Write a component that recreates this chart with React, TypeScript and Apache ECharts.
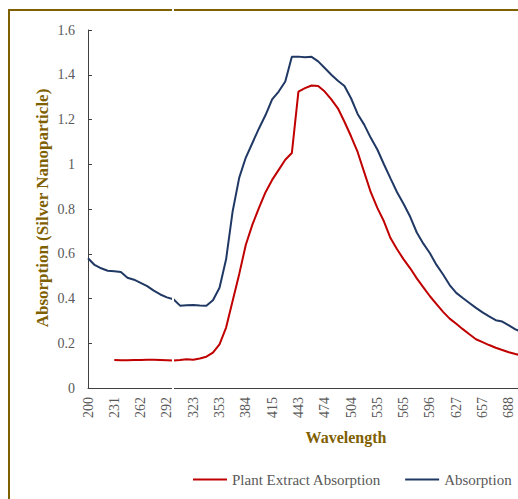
import React, { useEffect, useRef } from "react";
import * as echarts from "echarts";

// Category axis: wavelengths (nm); every 4th one is labelled
const wavelengths = [
  200, 208, 216, 223, 231, 239, 247, 254, 262, 270, 277, 285, 292, 300, 308, 315,
  323, 331, 338, 346, 353, 361, 369, 376, 384, 392, 400, 407, 415, 422, 429, 436,
  443, 451, 459, 466, 474, 482, 489, 497, 504, 512, 520, 527, 535, 543, 550, 558,
  565, 573, 581, 588, 596, 604, 612, 619, 627, 635, 642, 650, 657, 665, 673, 680,
  688, 696, 704,
];

const plantExtractAbsorption: (number | null)[] = [
  null, null, null, null, 0.125, 0.124, 0.124, 0.125, 0.125, 0.126, 0.126, 0.125, 0.124, 0.123, 0.125, 0.128,
  0.126, 0.132, 0.14, 0.158, 0.195, 0.27, 0.39, 0.51, 0.64, 0.73, 0.805, 0.875, 0.93, 0.975, 1.02, 1.05,
  1.325, 1.34, 1.352, 1.35, 1.325, 1.29, 1.25, 1.19, 1.125, 1.055, 0.965, 0.875, 0.805, 0.745, 0.67, 0.62,
  0.575, 0.535, 0.49, 0.45, 0.41, 0.375, 0.34, 0.31, 0.287, 0.263, 0.24, 0.218, 0.205, 0.192, 0.18, 0.17,
  0.16, 0.152, 0.145,
];

const absorption = [
  0.58, 0.55, 0.535, 0.524, 0.522, 0.518, 0.493, 0.484, 0.47, 0.455, 0.435, 0.418, 0.405, 0.397, 0.368, 0.37,
  0.371, 0.369, 0.368, 0.392, 0.448, 0.575, 0.79, 0.94, 1.03, 1.095, 1.16, 1.22, 1.29, 1.325, 1.37, 1.48,
  1.481, 1.478, 1.48, 1.46, 1.43, 1.4, 1.373, 1.35, 1.295, 1.225, 1.177, 1.118, 1.066, 1.0, 0.937, 0.875,
  0.822, 0.765, 0.695, 0.645, 0.602, 0.55, 0.507, 0.46, 0.425, 0.402, 0.38, 0.358, 0.338, 0.32, 0.303, 0.297,
  0.28, 0.262, 0.25,
];

const seriesNames = ["Plant Extract Absorption", "Absorption"];
const seriesColors = ["#C00000", "#203864"];
const yTitle = "Absorption (Silver Nanoparticle)";
const xTitle = "Wavelength";

const SERIF = "'Liberation Serif', 'Times New Roman', serif";
const OLIVE = "#7F6000";
const GREY = "#595959";

export default function App() {
  const ref = useRef<HTMLDivElement>(null);

  useEffect(() => {
    if (!ref.current) return;
    const chart = echarts.init(ref.current, null, { renderer: "svg" });
    chart.setOption({
      animation: false,
      backgroundColor: "#ffffff",
      grid: { left: 88, right: 18, top: 30, bottom: 111, containLabel: false },
      legend: {
        data: seriesNames,
        left: 193,
        top: 472,
        padding: 0,
        icon: "rect",
        itemWidth: 34,
        itemHeight: 2,
        itemGap: 24,
        textStyle: { fontFamily: SERIF, fontSize: 15, color: GREY },
      },
      xAxis: {
        type: "category",
        data: wavelengths.map(String),
        boundaryGap: false,
        axisLine: { lineStyle: { color: "#404040", width: 1 } },
        axisTick: { show: false },
        axisLabel: {
          interval: 3,
          rotate: 90,
          margin: 9,
          fontFamily: SERIF,
          fontSize: 14,
          color: GREY,
        },
        splitLine: { show: false },
      },
      yAxis: {
        type: "value",
        min: 0,
        max: 1.6,
        interval: 0.2,
        axisLine: { show: true, lineStyle: { color: "#404040", width: 1 } },
        axisTick: { show: true, inside: true, length: 4, lineStyle: { color: "#404040" } },
        axisLabel: { margin: 13, fontFamily: SERIF, fontSize: 14, color: GREY },
        splitLine: { show: false },
      },
      series: [
        {
          name: seriesNames[0],
          type: "line",
          data: plantExtractAbsorption,
          showSymbol: false,
          symbol: "none",
          connectNulls: false,
          lineStyle: { color: seriesColors[0], width: 2 },
          itemStyle: { color: seriesColors[0] },
        },
        {
          name: seriesNames[1],
          type: "line",
          data: absorption,
          showSymbol: false,
          symbol: "none",
          lineStyle: { color: seriesColors[1], width: 2 },
          itemStyle: { color: seriesColors[1] },
        },
      ],
      graphic: [
        // frame border
        { type: "rect", left: 8, top: 9, shape: { width: 520, height: 2 }, style: { fill: OLIVE }, z: 50 },
        { type: "rect", left: 8, top: 9, shape: { width: 2, height: 500 }, style: { fill: OLIVE }, z: 50 },
        // axis titles
        {
          type: "text",
          x: 346,
          y: 437,
          style: {
            text: xTitle,
            fontFamily: SERIF,
            fontSize: 16,
            fontWeight: "bold",
            fill: OLIVE,
            textAlign: "center",
            textVerticalAlign: "middle",
          },
        },
        {
          type: "text",
          x: 42,
          y: 208,
          rotation: Math.PI / 2,
          style: {
            text: yTitle,
            fontFamily: SERIF,
            fontSize: 17,
            fontWeight: "bold",
            fill: OLIVE,
            textAlign: "center",
            textVerticalAlign: "middle",
          },
        },
        // white scan gap through the picture
        { type: "rect", left: 172, top: 0, shape: { width: 2, height: 499 }, style: { fill: "#ffffff" }, z: 100 },
      ],
    });
    return () => chart.dispose();
  }, []);

  return (
    <div
      style={{
        position: "fixed",
        left: 0,
        top: 0,
        width: 518,
        height: 499,
        overflow: "hidden",
        background: "#ffffff",
      }}
    >
      <div ref={ref} style={{ width: 540, height: 499 }} />
    </div>
  );
}
